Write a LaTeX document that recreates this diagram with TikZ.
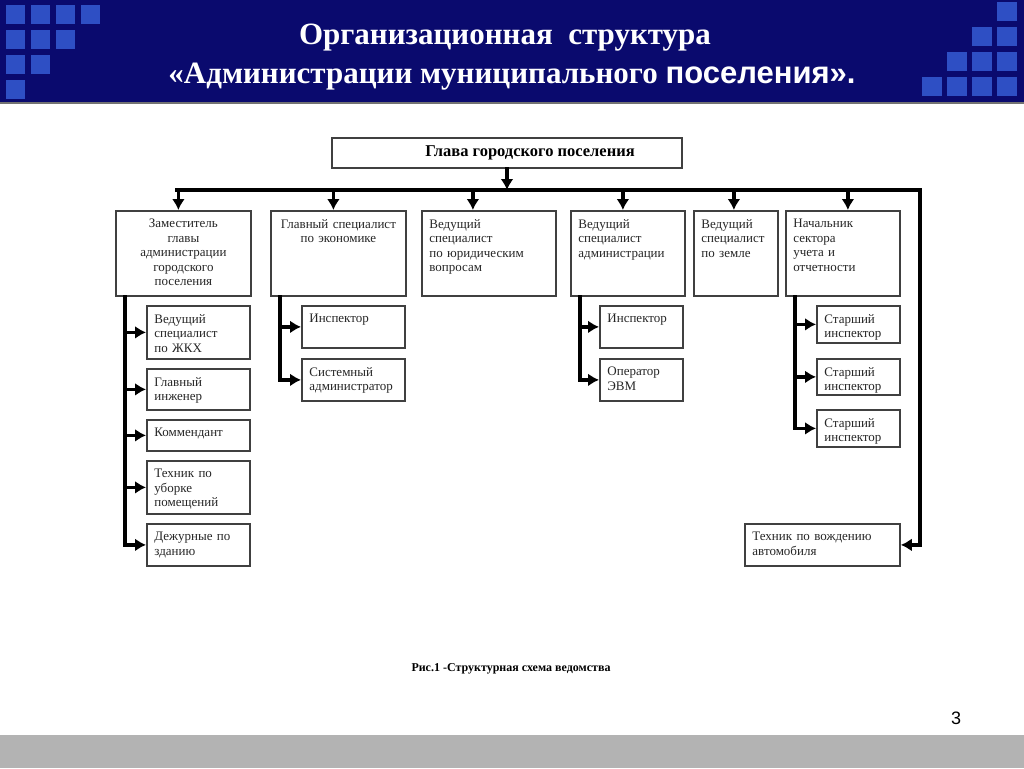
\documentclass[tikz,border=0pt]{standalone}
\usepackage{fontspec}
\setmainfont{Liberation Serif}
\newfontfamily\arialfont{Liberation Sans}
\usetikzlibrary{arrows.meta}

\definecolor{header}{HTML}{0A0A6E}
\definecolor{squares}{HTML}{2E4FC4}
\definecolor{footer}{HTML}{B3B3B3}

\def\orgbox#1#2#3#4#5#6#7{ % #1 name, #2 x, #3 y, #4 width, #5 height, #6 align, #7 text
    \pgfmathsetmacro\tw{#4-15}
    \node[box, anchor=north west, minimum width=#4, minimum height=#5] (#1) at (#2,#3) {};
    \node[boxtext, anchor=north, text width=\tw pt, align=#6] (#1t) at (#1.north) {#7};
}

\begin{document}
\begin{tikzpicture}[x=1pt, y=-1pt,
        box/.style={draw=black!75, line width=1.8pt, fill=white, inner sep=0pt},
        boxtext/.style={font=\fontsize{13}{14.5}\selectfont, text=black!85, inner xsep=0pt, inner ysep=9pt},
        arr/.style={line width=3.4pt, line cap=rect, -{Latex[length=11pt,width=13pt]}},
        sq/.style={fill=squares}]
        \useasboundingbox (0,0) rectangle (1024,768);

        % header
        \fill[header] (0,0) rectangle (1024,102);
        \draw[black!55, line width=1.5] (0,103) -- (1024,103);
        \foreach \r in {0,...,3} {
            \pgfmathtruncatemacro\n{3-\r}
            \foreach \c in {0,...,\n} \fill[sq] (6+25*\c,5+25*\r) rectangle ++(19,19); %squares left
        }
        \foreach \r in {0,...,3}
            \foreach \c in {0,...,\r} \fill[sq] (997-25*\c,2+25*\r) rectangle ++(20,19); %squares right

        \node[text=white, font=\fontsize{31}{36}\selectfont\bfseries] (title1) at (505,38) {Организационная~ структура};
        \node[text=white, font=\fontsize{31}{36}\selectfont\bfseries] (title2) at (512,77) {«Администрации муниципального {\arialfont поселения».}};

        % footer
        \fill[footer] (0,735) rectangle (1024,768);
        \node[font=\arialfont\fontsize{18}{18}\selectfont] (pnum) at (956,718) {3};
        \node[font=\fontsize{12}{14}\selectfont\bfseries] (caption) at (511,669) {Рис.1 -Структурная схема ведомства};

        % head
        \node[box, minimum width=350, minimum height=30, font=\fontsize{16.5}{18}\selectfont\bfseries] (head) at (507,153) {\hspace{46pt}Глава городского поселения};

        % first level
        \orgbox{d1}{115}{210}{135}{85}{center}{Заместитель\\ главы\\ администрации\\ городского\\ поселения}
        \orgbox{d2}{270}{210}{135}{85}{center}{Главный специалист\\ по экономике}
        \orgbox{d3}{421}{210}{134}{85}{left}{Ведущий\\ специалист\\ по юридическим\\ вопросам}
        \orgbox{d4}{570}{210}{114}{85}{left}{Ведущий\\ специалист\\ администрации}
        \orgbox{d5}{693}{210}{84}{85}{left}{Ведущий\\ специалист\\ по земле}
        \orgbox{d6}{785}{210}{114}{85}{left}{Начальник\\ сектора\\ учета и\\ отчетности}

        % second level
        \orgbox{s1a}{146}{305}{103}{53}{left}{Ведущий\\ специалист\\ по ЖКХ}
        \orgbox{s1b}{146}{368}{103}{41}{left}{Главный\\ инженер}
        \orgbox{s1c}{146}{419}{103}{31}{left}{Коммендант}
        \orgbox{s1d}{146}{460}{103}{53}{left}{Техник по\\ уборке\\ помещений}
        \orgbox{s1e}{146}{523}{103}{42}{left}{Дежурные по\\ зданию}

        \orgbox{s2a}{301}{305}{103}{42}{left}{Инспектор}
        \orgbox{s2b}{301}{358}{103}{42}{left}{Системный\\ администратор}

        \orgbox{s4a}{599}{305}{83}{42}{left}{Инспектор}
        \orgbox{s4b}{599}{358}{83}{42}{left}{Оператор\\ ЭВМ}

        \orgbox{s6a}{816}{305}{83}{37}{left}{Старший\\ инспектор}
        \orgbox{s6b}{816}{358}{83}{36}{left}{Старший\\ инспектор}
        \orgbox{s6c}{816}{409}{83}{37}{left}{Старший\\ инспектор}

        \orgbox{drv}{744}{523}{155}{42}{left}{Техник по вождению\\ автомобиля}

        % bus
        \coordinate (busL) at (177,190);
        \coordinate (busR) at (920,190);
        \draw[arr] (head.south) -- (head.south |- busL);
        \draw[arr] (busL) -- (busR) |- (drv.east);
        \foreach \b/\dx in {d1/-5, d2/-5, d3/-16, d4/-5, d5/-2, d6/5}
            \draw[arr] ([xshift=\dx]\b.north |- busL) -- ([xshift=\dx]\b.north);

        % branches
        \foreach \b/\s in {d1/s1a, d1/s1b, d1/s1c, d1/s1d, d1/s1e, d2/s2a, d2/s2b, d4/s4a, d4/s4b, d6/s6a, d6/s6b, d6/s6c}
            \draw[arr] ([xshift=10]\b.south west) |- (\s.west);
    \end{tikzpicture}
\end{document}
